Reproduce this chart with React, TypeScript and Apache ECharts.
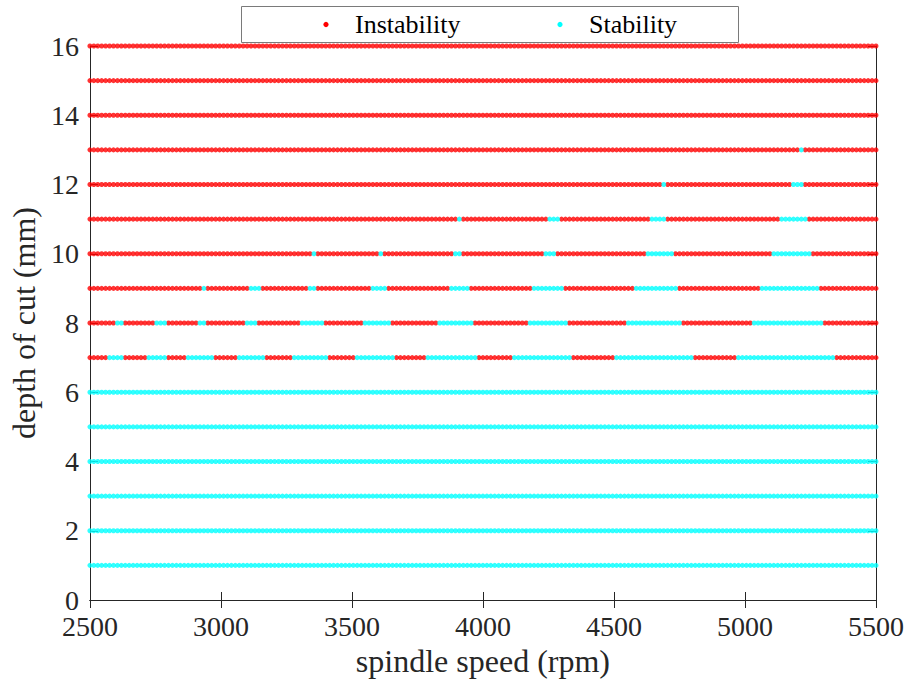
import React, { useEffect, useRef } from "react";
import * as echarts from "echarts";

// Spindle-speed sweep (rpm) and depth levels (mm)
const speedStart = 2500;
const speedEnd = 5500;
const speedStep = 15;
const depthLevels = [1, 2, 3, 4, 5, 6, 7, 8, 9, 10, 11, 12, 13, 14, 15, 16];

// Axis ticks
const xTickMin = 2500;
const xTickMax = 5500;
const xTickStep = 500;
const yTickMin = 0;
const yTickMax = 16;
const yTickStep = 2;

// Legend entries
const legendNames = ["Instability", "Stability"];
const legendColors = ["#ff0000", "#00ffff"];

// Stable speed ranges (rpm), per depth of cut
const stableFull: [number, number][] = [[2500, 5500]];
const stableNone: [number, number][] = [];
const stable7: [number, number][] = [
  [2580, 2625], [2719, 2780], [2877, 2960], [3076, 3160], [3274, 3400],
  [3514, 3657], [3795, 3975], [4113, 4334], [4512, 4792], [4971, 5332],
];
const stable8: [number, number][] = [
  [2599, 2622], [2760, 2780], [2919, 2942], [3096, 3137], [3315, 3379],
  [3555, 3636], [3835, 3955], [4173, 4315], [4550, 4754], [5031, 5294],
];
const stable9: [number, number][] = [
  [2940, 2940], [3116, 3141], [3337, 3360], [3575, 3619], [3875, 3936],
  [4192, 4296], [4590, 4736], [5069, 5271],
];
const stable10: [number, number][] = [
  [3357, 3357], [3615, 3615], [3894, 3917], [4233, 4274], [4632, 4717], [5107, 5252],
];
const stable11: [number, number][] = [[3915, 3915], [4251, 4278], [4642, 4687], [5147, 5231]];
const stable12: [number, number][] = [[4694, 4694], [5189, 5214]];
const stable13: [number, number][] = [[5211, 5211]];

const stableRanges: [number, number][][] = [
  stableFull, stableFull, stableFull, stableFull, stableFull, stableFull,
  stable7, stable8, stable9, stable10, stable11, stable12, stable13,
  stableNone, stableNone, stableNone,
];

const FONT = "'Liberation Serif', 'Times New Roman', serif";
const AXIS_COLOR = "#262626";

function buildData() {
  const unstable: [number, number][] = [];
  const stable: [number, number][] = [];
  const half = speedStep / 2;
  depthLevels.forEach((depth, i) => {
    const ranges = stableRanges[i];
    for (let s = speedStart; s <= speedEnd; s += speedStep) {
      const isStable = ranges.some(([a, b]) => s >= a - half && s <= b + half);
      (isStable ? stable : unstable).push([s, depth]);
    }
  });
  return { unstable, stable };
}

export default function App() {
  const ref = useRef<HTMLDivElement>(null);
  useEffect(() => {
    if (!ref.current) return;
    const chart = echarts.init(ref.current, null, { renderer: "svg" });
    const { unstable, stable } = buildData();
    const axisLine = { show: true, lineStyle: { color: AXIS_COLOR, width: 1 } };
    const tick = { show: true, inside: true, length: 8, lineStyle: { color: AXIS_COLOR } };
    const plain = (v: number) => String(v);
    const legendMarkerX = [326, 560];
    const legendTextX = [355, 589];
    chart.setOption({
      animation: false,
      backgroundColor: "#ffffff",
      textStyle: { fontFamily: FONT },
      grid: { left: 88, right: 31, top: 46, bottom: 83, containLabel: false },
      graphic: [
        {
          type: "rect",
          shape: { x: 241.5, y: 6.5, width: 497, height: 36 },
          style: { fill: "#ffffff", stroke: "#7a7a7a", lineWidth: 1 },
          z: 10,
        },
        ...legendNames.flatMap((name, i) => [
          {
            type: "circle",
            shape: { cx: legendMarkerX[i], cy: 24.5, r: 2.6 },
            style: { fill: legendColors[i] },
            z: 11,
          },
          {
            type: "text",
            x: legendTextX[i],
            y: 24.5,
            style: {
              text: name,
              fontFamily: FONT,
              fontSize: 26,
              fill: "#000000",
              verticalAlign: "middle",
              align: "left",
            },
            z: 11,
          },
        ]),
      ],
      xAxis: [
        {
          type: "value",
          min: xTickMin,
          max: xTickMax,
          interval: xTickStep,
          name: "spindle speed (rpm)",
          nameLocation: "middle",
          nameGap: 44,
          nameTextStyle: { fontFamily: FONT, fontSize: 32, color: AXIS_COLOR },
          axisLine,
          axisTick: tick,
          splitLine: { show: false },
          axisLabel: { fontFamily: FONT, fontSize: 28, color: AXIS_COLOR, margin: 12, formatter: plain },
        },
        {
          type: "value",
          position: "top",
          min: xTickMin,
          max: xTickMax,
          interval: xTickStep,
          axisLine,
          axisTick: tick,
          splitLine: { show: false },
          axisLabel: { show: false },
        },
      ],
      yAxis: [
        {
          type: "value",
          min: yTickMin,
          max: yTickMax,
          interval: yTickStep,
          name: "depth of cut (mm)",
          nameLocation: "middle",
          nameGap: 44,
          nameTextStyle: { fontFamily: FONT, fontSize: 32, color: AXIS_COLOR },
          axisLine,
          axisTick: tick,
          splitLine: { show: false },
          axisLabel: { fontFamily: FONT, fontSize: 28, color: AXIS_COLOR, margin: 11, formatter: plain },
        },
        {
          type: "value",
          position: "right",
          min: yTickMin,
          max: yTickMax,
          interval: yTickStep,
          axisLine,
          axisTick: tick,
          splitLine: { show: false },
          axisLabel: { show: false },
        },
      ],
      series: [
        {
          name: legendNames[0],
          type: "scatter",
          symbol: "circle",
          symbolSize: 5,
          itemStyle: { color: legendColors[0] },
          data: unstable,
          clip: false,
          z: 3,
        },
        {
          name: legendNames[1],
          type: "scatter",
          symbol: "circle",
          symbolSize: 5,
          itemStyle: { color: legendColors[1] },
          data: stable,
          clip: false,
          z: 3,
        },
      ],
    });
    return () => chart.dispose();
  }, []);
  return (
    <div
      ref={ref}
      style={{ position: "fixed", left: 0, top: 0, width: 907, height: 683 }}
    />
  );
}
